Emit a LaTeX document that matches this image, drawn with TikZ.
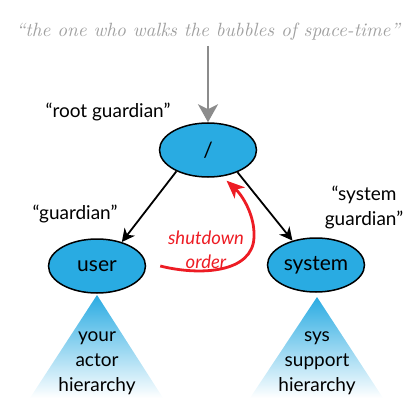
\documentclass[tikz,border=0pt]{standalone}
\usepackage{fontspec}
\setmainfont{Lato}
\usetikzlibrary{shapes.geometric,arrows.meta}
\definecolor{bubble}{HTML}{29ABE2}
\definecolor{redarr}{HTML}{ED1C24}
\definecolor{quotegray}{HTML}{A0A0A0}
\definecolor{arrgray}{HTML}{8C8C8C}
\newfontfamily\quotefont{lmroman10-italic.otf}
\tikzset{
  bub/.style={ellipse, draw=black, line width=1.5pt, fill=bubble, inner sep=0pt,
    minimum width=97pt, minimum height=54pt, font=\fontsize{21}{24}\selectfont},
  lbl/.style={font=\fontsize{19}{25}\selectfont, align=center, inner sep=0pt},
  tri/.style={top color=bubble, bottom color=white, draw=none},
  conn/.style={line width=1.8pt, -{Stealth[length=13pt,width=13pt,inset=4pt]}},
}
\begin{document}
\begin{tikzpicture}[x=1pt,y=-1pt]
\useasboundingbox (0,0) rectangle (417,417);
% triangles
\shade[tri] (97,295) -- (30,398) -- (163,398) -- cycle;
\shade[tri] (317,297) -- (250,398) -- (383,398) -- cycle;
\node[lbl] (yah) at (97,363) {your\\actor\\hierarchy};
\node[lbl] (ssh) at (317,363) {sys\\support\\hierarchy};
% quote
\node[font=\quotefont\fontsize{19.2}{22}\selectfont, text=quotegray, inner sep=0pt, anchor=base] (quote) at (208,37) {“the one who walks the bubbles of space-time”};
% bubbles
\node[bub] (root) at (208,150) {/};
\node[bub] (user) at (97,266) {user};
\node[bub] (system) at (316,265) {system};
% labels
\node[lbl] (rootlbl) at (108,112) {“root guardian”};
\node[lbl] (userlbl) at (75,214) {“guardian”};
\node[lbl] (syslbl) at (364,207) {“system\\guardian”};
\node[lbl, text=redarr, font=\itshape\fontsize{18.5}{24}\selectfont] (shut) at (206,250) {shutdown\\order};
% arrows
\coordinate (qstart) at (208,46);
\draw[line width=2.6pt, arrgray, -{Stealth[length=18pt,width=20pt,inset=5pt]}] (qstart) -- (root.north);
\draw[conn] (root.214) -- (user.44);
\draw[conn] (root.323) -- (system.134);
\coordinate (redstart) at ([xshift=14pt]user.east);
\draw[line width=2.8pt, redarr, -{Stealth[length=18pt,width=15pt,inset=5pt]}, shorten >=6pt]
  (redstart) .. controls (200,276) and (253,273) .. (254,237)
  .. controls (255,215) and (242,195) .. (root.298);
\end{tikzpicture}
\end{document}
